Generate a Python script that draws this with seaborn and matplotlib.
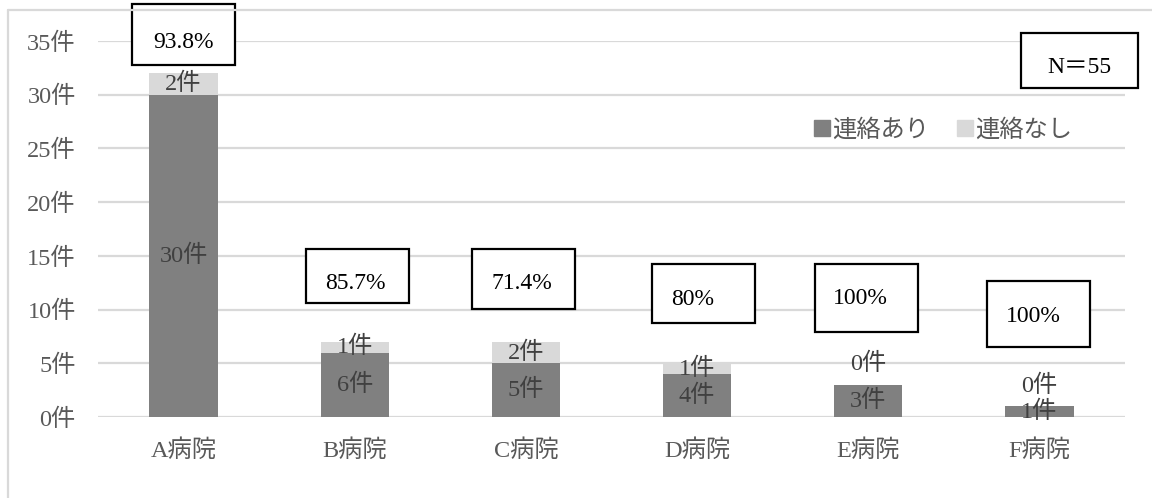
import matplotlib
matplotlib.use("Agg")
import matplotlib.pyplot as plt
from matplotlib.patches import Rectangle
from matplotlib.lines import Line2D
import pandas as pd
import seaborn as sns

# --- data -------------------------------------------------------------
hospitals = ["A病院", "B病院", "C病院", "D病院", "E病院", "F病院"]
contacted = [30, 6, 5, 4, 3, 1]        # 連絡あり
not_contacted = [2, 1, 2, 1, 0, 0]     # 連絡なし
series_names = ["連絡あり", "連絡なし"]
y_ticks = [0, 5, 10, 15, 20, 25, 30, 35]

# --- layout of the rate boxes (category offset, bottom, top) ----------
box_layout = [(0.0, 32.8, 38.4), (0.015, 10.6, 15.65), (-0.015, 10.05, 15.65),
              (0.038, 8.75, 14.25), (-0.012, 7.9, 14.25), (-0.006, 6.5, 12.65)]
text_layout = [(-0.003, 34.9), (0.003, 12.45), (-0.026, 12.45),
               (-0.026, 10.9), (-0.044, 11.0), (-0.038, 9.4)]
box_width = 0.6

DARK = "#808080"
LIGHT = "#d9d9d9"
GRID = "#d9d9d9"
TICK_COLOR = "#595959"
LABEL_COLOR = "#404040"
FS = 17.5
FS_BOX = 17

sns.set_theme(style="white")
plt.rcParams["font.family"] = ["Liberation Serif", "Noto Sans CJK JP", "DejaVu Sans"]

df = pd.DataFrame({"病院": hospitals, "連絡あり": contacted, "連絡なし": not_contacted})
df["合計"] = df["連絡あり"] + df["連絡なし"]

fig = plt.figure(figsize=(11.52, 4.98), dpi=100)
ax = fig.add_axes([98 / 1152, 1 - 417 / 498, (1125 - 98) / 1152, (417 - 41) / 498])

# stacked bars: total in light grey, contacted drawn over it in dark grey
sns.barplot(data=df, x="病院", y="合計", order=hospitals, color=LIGHT,
            saturation=1, width=0.4, errorbar=None, linewidth=0, ax=ax, zorder=2)
sns.barplot(data=df, x="病院", y="連絡あり", order=hospitals, color=DARK,
            saturation=1, width=0.4, errorbar=None, linewidth=0, ax=ax, zorder=3)

ax.set_ylim(0, 35)
ax.set_xlim(-0.5, len(hospitals) - 0.5)
ax.set_yticks(y_ticks)
ax.set_yticklabels([f"{t}件" for t in y_ticks])
ax.set_xlabel("")
ax.set_ylabel("")
ax.tick_params(axis="y", length=0, pad=16, labelsize=FS, labelcolor=TICK_COLOR)
ax.tick_params(axis="x", length=0, pad=16, labelsize=FS, labelcolor=TICK_COLOR)
for sp in ax.spines.values():
    sp.set_visible(False)
ax.set_axisbelow(True)
ax.yaxis.grid(True, color=GRID, lw=1.6)
ax.xaxis.grid(False)

# segment labels
for i, (a, n) in enumerate(zip(contacted, not_contacted)):
    ax.text(i, a / 2, f"{a}件", ha="center", va="center", fontsize=FS,
            color=LABEL_COLOR, zorder=5)
    if n > 0:
        ax.text(i, a + n / 2, f"{n}件", ha="center", va="center", fontsize=FS,
                color=LABEL_COLOR, zorder=5)
    else:
        ax.annotate(f"{n}件", xy=(i, a + n), xytext=(0, 15), textcoords="offset points",
                    ha="center", va="center", fontsize=FS, color=LABEL_COLOR, zorder=5)

# contact-rate boxes
for i, (a, n) in enumerate(zip(contacted, not_contacted)):
    rate = round(100 * a / (a + n), 1)
    label = f"{rate:.1f}".rstrip("0").rstrip(".") + "%"
    dx, lo, hi = box_layout[i]
    ax.add_patch(Rectangle((i + dx - box_width / 2, lo), box_width, hi - lo,
                           facecolor="white", edgecolor="black", lw=1.6,
                           clip_on=False, zorder=6))
    tx, ty = text_layout[i]
    ax.text(i + tx, ty, label, ha="center", va="center", fontsize=FS_BOX,
            color="black", zorder=7, clip_on=False)

# total count box
total = sum(contacted) + sum(not_contacted)
ax.add_patch(Rectangle((4.892, 30.62), 5.576 - 4.892, 35.74 - 30.62,
                       facecolor="white", edgecolor="black", lw=1.6,
                       clip_on=False, zorder=6))
ax.text(5.231, 32.5, f"N＝{total}", ha="center", va="center", fontsize=FS_BOX,
        color="black", zorder=7, clip_on=False)

# legend
handles = [Line2D([], [], marker="s", ls="none", markersize=11, color=c)
           for c in (DARK, LIGHT)]
leg = ax.legend(handles, series_names, loc="center", bbox_to_anchor=(0.823, 0.763),
                ncol=2, frameon=False, fontsize=FS, handlelength=0.6,
                handletextpad=0.1, columnspacing=1.2, labelcolor=TICK_COLOR)

# chart area frame (left and top edges)
fig.add_artist(Line2D([8 / 1152, 8 / 1152], [0, 1 - 10 / 498], color=GRID, lw=1.6))
fig.add_artist(Line2D([8 / 1152, 1], [1 - 10 / 498, 1 - 10 / 498], color=GRID, lw=1.6))

fig.savefig("out.png", dpi=100, facecolor="white")
